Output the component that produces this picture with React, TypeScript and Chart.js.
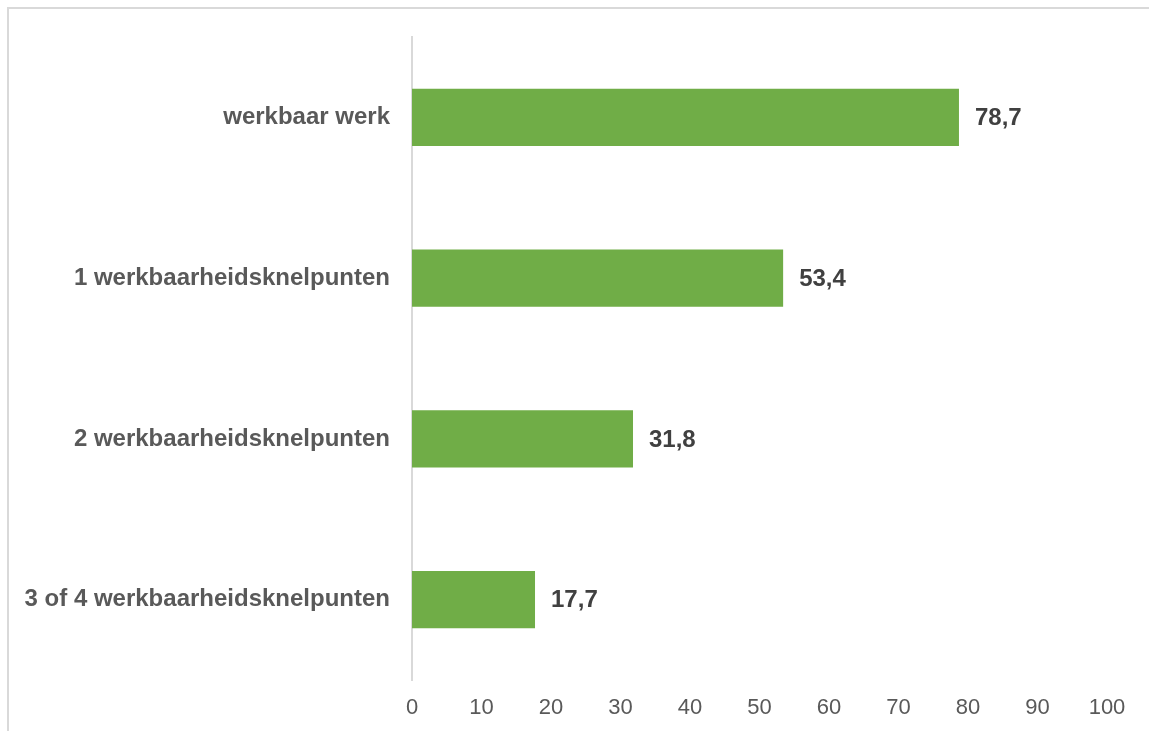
import React, { useEffect, useRef } from "react";
import { Chart, registerables } from "chart.js";

Chart.register(...registerables);

const categories = [
  "werkbaar werk",
  "1 werkbaarheidsknelpunten",
  "2 werkbaarheidsknelpunten",
  "3 of 4 werkbaarheidsknelpunten",
];
const values = [78.7, 53.4, 31.8, 17.7];
const xTicks = [0, 10, 20, 30, 40, 50, 60, 70, 80, 90, 100];

const FONT = "'Liberation Sans', Arial, sans-serif";

const valueLabels = {
  id: "valueLabels",
  afterDatasetsDraw(chart: any) {
    const ctx = chart.ctx;
    const meta = chart.getDatasetMeta(0);
    ctx.save();
    ctx.font = `bold 24px ${FONT}`;
    ctx.fillStyle = "#404040";
    ctx.textAlign = "left";
    ctx.textBaseline = "middle";
    meta.data.forEach((bar: any, i: number) => {
      const v = chart.data.datasets[0].data[i] as number;
      ctx.fillText(v.toFixed(1).replace(".", ","), bar.x + 16, bar.y + 1);
    });
    ctx.restore();
  },
};

export default function App() {
  const ref = useRef<HTMLCanvasElement>(null);
  useEffect(() => {
    if (!ref.current) return;
    const chart = new Chart(ref.current, {
      type: "bar",
      data: {
        labels: categories,
        datasets: [
          {
            data: values,
            backgroundColor: "#70AD47",
            borderWidth: 0,
            barPercentage: 0.355,
            categoryPercentage: 1,
          },
        ],
      },
      options: {
        indexAxis: "y",
        responsive: false,
        animation: false,
        layout: { padding: { top: 28, right: 42, left: 0, bottom: 0 } },
        plugins: {
          legend: { display: false },
          tooltip: { enabled: false },
        },
        scales: {
          x: {
            min: 0,
            max: 100,
            afterBuildTicks: (scale: any) => {
              scale.ticks = xTicks.map((v) => ({ value: v }));
            },
            afterFit: (scale: any) => {
              scale.height = 51;
              scale.paddingLeft = 0;
              scale.paddingRight = 0;
            },
            grid: { display: false, drawTicks: false },
            border: { display: false },
            ticks: {
              padding: 15,
              color: "#595959",
              font: { family: FONT, size: 22 },
            },
          },
          y: {
            afterFit: (scale: any) => {
              scale.width = 403;
              scale.paddingTop = 0;
              scale.paddingBottom = 0;
            },
            grid: { display: false, drawTicks: false },
            border: { display: true, color: "#d9d9d9", width: 2 },
            ticks: {
              padding: 22,
              color: "#595959",
              font: { family: FONT, size: 24, weight: "bold" },
            },
          },
        },
      },
      plugins: [valueLabels],
    });
    return () => chart.destroy();
  }, []);

  return (
    <div
      style={{
        position: "fixed",
        left: 7,
        top: 7,
        width: 1160,
        height: 740,
        borderTop: "2px solid #d9d9d9",
        borderLeft: "2px solid #d9d9d9",
        boxSizing: "border-box",
        background: "#fff",
      }}
    >
      <canvas ref={ref} width={1140} height={722} style={{ display: "block" }} />
    </div>
  );
}
